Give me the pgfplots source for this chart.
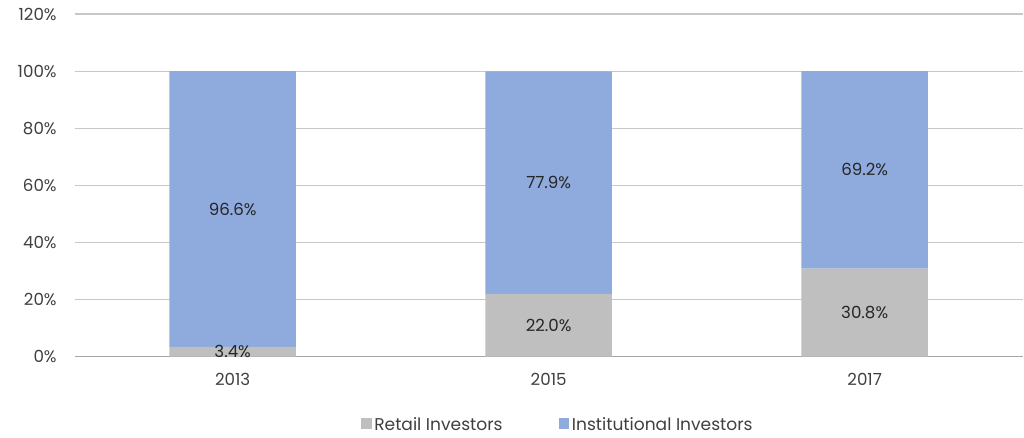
\documentclass[border=0pt]{standalone}
\usepackage{pgfplots}
\pgfplotsset{compat=1.18}
\usepackage{fontspec}
\setmainfont{Poppins}
\definecolor{retail}{HTML}{BFBFBF}
\definecolor{inst}{HTML}{8FAADC}
\definecolor{gridc}{HTML}{C8C8C8}
\definecolor{txt}{HTML}{404040}
\begin{document}
\begin{tikzpicture}[font=\fontsize{12.5}{14}\selectfont]
% stacked bars
\begin{axis}[
  name=main,
  scale only axis,
  width=711pt, height=257pt,
  ybar stacked,
  bar width=0.4,
  xmin=-0.5, xmax=2.5,
  ymin=0, ymax=120,
  xtick=data,
  xticklabels={2013,2015,2017},
  ytick={0,20,...,120},
  yticklabel={\pgfmathprintnumber{\tick}\%},
  /pgf/number format/assume math mode=true,
  ymajorgrids,
  grid style={gridc, line width=0.9pt},
  axis lines*=left,
  y axis line style={draw=none},
  x axis line style={draw=black!35, line width=1pt, -},
  major tick length=0pt,
  tick label style={txt},
  yticklabel style={xshift=-10pt},
  xticklabel style={yshift=-9pt},
  legend style={at={(0.51,-0.16)}, anchor=north, draw=none, legend columns=2,
    /tikz/every even column/.append style={column sep=40pt}, font=\fontsize{12.8}{14}\selectfont, text=txt},
  legend image code/.code={\fill[#1] (0pt,-3pt) rectangle (8pt,5pt);},
]
\addplot[fill=retail, draw=none] coordinates {(0,3.4) (1,22.0) (2,30.8)};
\addlegendentry{Retail Investors}
\addplot[fill=inst, draw=none] coordinates {(0,96.6) (1,77.9) (2,69.2)};
\addlegendentry{Institutional Investors}
\end{axis}
% data labels at segment midpoints
\begin{axis}[
  at={(main.south west)}, anchor=south west,
  scale only axis,
  width=711pt, height=257pt,
  xmin=-0.5, xmax=2.5,
  ymin=0, ymax=120,
  axis lines=none,
  ticks=none,
  nodes near coords,
  point meta=explicit symbolic,
  every node near coord/.append style={anchor=center, text=black!85, font=\fontsize{12.5}{14}\selectfont},
]
\addplot[draw=none, mark=none] coordinates {
  (0,1.7) [3.4\%]
  (1,11.0) [22.0\%]
  (2,15.4) [30.8\%]
  (0,51.7) [96.6\%]
  (1,60.95) [77.9\%]
  (2,65.4) [69.2\%]
};
\end{axis}
\path[use as bounding box] ([shift={(-56pt,-59pt)}]main.south west) rectangle ([shift={(1pt,10.5pt)}]main.north east);
\end{tikzpicture}
\end{document}
